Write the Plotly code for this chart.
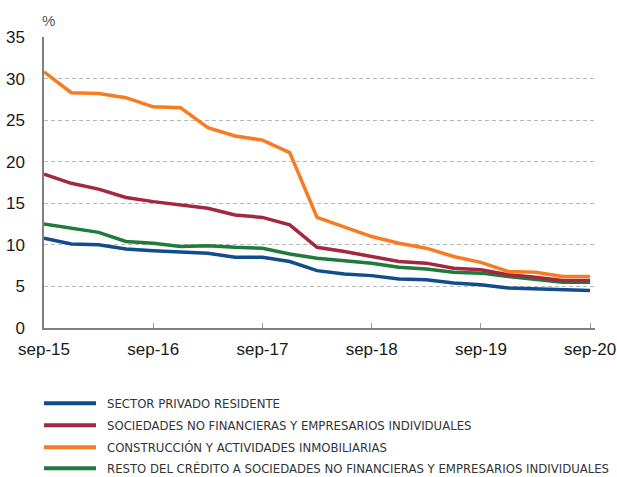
import plotly.graph_objects as go

periods = ["sep-15", "dic-15", "mar-16", "jun-16", "sep-16", "dic-16", "mar-17", "jun-17",
           "sep-17", "dic-17", "mar-18", "jun-18", "sep-18", "dic-18", "mar-19", "jun-19",
           "sep-19", "dic-19", "mar-20", "jun-20", "sep-20"]

sector_privado = [10.8, 10.1, 10.0, 9.5, 9.3, 9.2, 9.0, 8.5, 8.5, 8.0, 6.9, 6.5, 6.3, 5.9, 5.8, 5.4, 5.2, 4.8, 4.7, 4.6, 4.5]
sociedades_nf = [18.5, 17.4, 16.7, 15.7, 15.2, 14.8, 14.4, 13.6, 13.3, 12.4, 9.7, 9.2, 8.6, 8.0, 7.8, 7.2, 7.0, 6.4, 6.1, 5.7, 5.7]
construccion = [30.8, 28.3, 28.2, 27.7, 26.6, 26.5, 24.1, 23.1, 22.6, 21.1, 13.3, 12.2, 11.0, 10.2, 9.6, 8.6, 7.9, 6.8, 6.7, 6.2, 6.2]
resto_credito = [12.5, 12.0, 11.5, 10.4, 10.2, 9.8, 9.9, 9.7, 9.6, 8.9, 8.4, 8.1, 7.8, 7.3, 7.1, 6.7, 6.6, 6.2, 5.9, 5.5, 5.5]

series_names = ["SECTOR PRIVADO RESIDENTE",
                "SOCIEDADES NO FINANCIERAS Y EMPRESARIOS INDIVIDUALES",
                "CONSTRUCCIÓN Y ACTIVIDADES INMOBILIARIAS",
                "RESTO DEL CRÉDITO A SOCIEDADES NO FINANCIERAS Y EMPRESARIOS INDIVIDUALES"]
series_values = [sector_privado, sociedades_nf, construccion, resto_credito]
colors = ["#124d8b", "#a2283f", "#f77b22", "#207a3b"]

tick_labels = ["sep-15", "sep-16", "sep-17", "sep-18", "sep-19", "sep-20"]
y_ticks = [0, 5, 10, 15, 20, 25, 30, 35]

x = list(range(len(periods)))
tickvals = [periods.index(t) for t in tick_labels]

W, H = 617, 477
ml, mr, mt, mb = 44, 22, 37, 148.5
plot_h = H - mt - mb
plot_w = W - ml - mr

fig = go.Figure()
# draw order: blue, green, red, orange (orange on top)
order = [0, 3, 1, 2]
for i in order:
    fig.add_trace(go.Scatter(x=x, y=series_values[i], mode="lines", name=series_names[i],
                             line=dict(color=colors[i], width=3.5), showlegend=False,
                             hoverinfo="x+y"))

fig.update_layout(
    width=W, height=H,
    margin=dict(l=ml, r=mr, t=mt, b=mb, pad=0),
    paper_bgcolor="white", plot_bgcolor="white",
    font=dict(family="Liberation Sans, Arial, Helvetica, sans-serif", size=17, color="#1a1a1a"),
    xaxis=dict(range=[0, 20.18], tickvals=tickvals, ticktext=tick_labels, automargin=False,
               showgrid=False, zeroline=False, showline=True, linecolor="#808080", linewidth=1.5,
               ticks="inside", ticklen=5, tickwidth=1, tickcolor="#999999",
               tickfont=dict(size=17, color="#1a1a1a"), ticklabelstandoff=5),
    yaxis=dict(range=[0, 35], tickvals=y_ticks, showgrid=True, gridcolor="#b8b8b8", automargin=False,
               griddash="4px,3px", gridwidth=1.3, zeroline=False, showline=True,
               linecolor="#808080", linewidth=1.5, ticks="", tickfont=dict(size=17, color="#1a1a1a"),
               ticklabelstandoff=14),
)

fig.add_annotation(text="%", xref="paper", yref="paper", x=4 / plot_w, y=(H - mb - 20) / plot_h,
                   xanchor="center", yanchor="middle", showarrow=False,
                   font=dict(size=15, color="#555555"))

# legend rows
legend_y_px = [404, 426, 448, 469]
for k in range(4):
    yp = (H - mb - legend_y_px[k]) / plot_h
    fig.add_shape(type="line", xref="paper", yref="paper", x0=0, x1=52 / plot_w, y0=yp, y1=yp,
                  line=dict(color=colors[k], width=4))
    fig.add_annotation(text=series_names[k], xref="paper", yref="paper", x=61 / plot_w, y=yp,
                       xanchor="left", yanchor="middle", showarrow=False,
                       font=dict(family="Liberation Sans Narrow, Arial Narrow, DejaVu Sans Condensed, sans-serif",
                                 size=13, color="#333333"))

fig.write_html("out.html", config={"displayModeBar": False},
               post_script="document.body.style.margin='0';document.body.style.overflow='hidden';")
